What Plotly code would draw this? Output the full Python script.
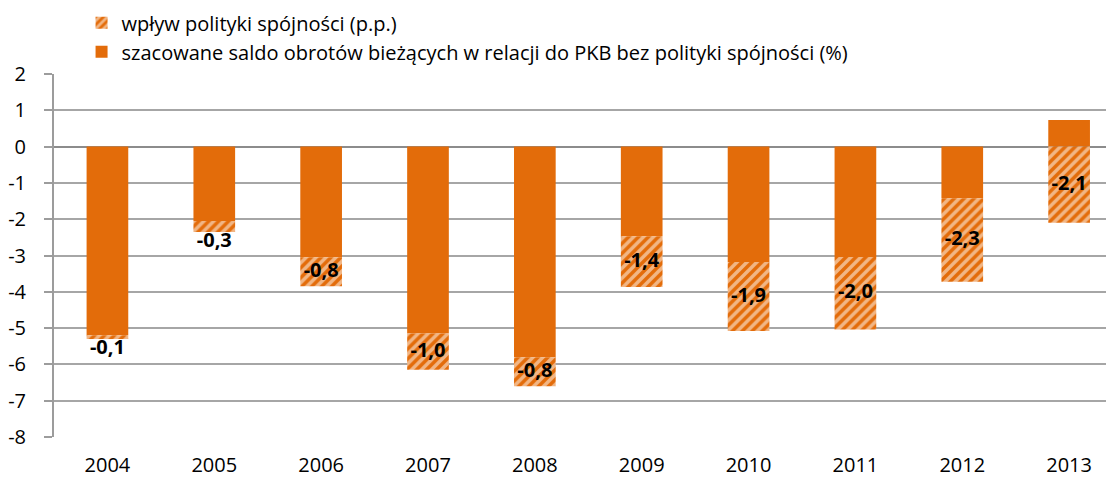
import plotly.graph_objects as go

years = ["2004", "2005", "2006", "2007", "2008", "2009", "2010", "2011", "2012", "2013"]
saldo_bez = [-5.2, -2.05, -3.05, -5.15, -5.8, -2.47, -3.18, -3.04, -1.42, 0.73]
wplyw = [-0.1, -0.3, -0.8, -1.0, -0.8, -1.4, -1.9, -2.0, -2.3, -2.1]
y_ticks = [2, 1, 0, -1, -2, -3, -4, -5, -6, -7, -8]

ORANGE = "#E36C0A"
FONT = "Open Sans"

fig = go.Figure()
fig.add_trace(go.Bar(
    x=years, y=saldo_bez, name="szacowane saldo obrotów bieżących w relacji do PKB bez polityki spójności (%)",
    marker=dict(color=ORANGE, line=dict(width=0)), width=0.39, hoverinfo="skip",
))
fig.add_trace(go.Bar(
    x=years, y=wplyw, name="wpływ polityki spójności (p.p.)",
    marker=dict(color=ORANGE, line=dict(width=0),
                pattern=dict(shape="/", fgcolor="white", bgcolor=ORANGE, size=7, solidity=0.5)),
    width=0.39, hoverinfo="skip",
))

# label positions: centre of hatched segment (stacked from the negative base)
label_y = []
pos = []
for s, w in zip(saldo_bez, wplyw):
    base = s if s < 0 else 0
    if abs(w) < 0.35:
        label_y.append(base + w)
        pos.append("bottom center")
    else:
        label_y.append(base + w / 2)
        pos.append("middle center")
labels = [f"{v:.1f}".replace(".", ",") for v in wplyw]
fig.add_trace(go.Scatter(
    x=years, y=label_y, mode="text", text=labels, textposition=pos,
    textfont=dict(family=FONT, size=20, color="black", weight="bold"),
    showlegend=False, hoverinfo="skip",
))

fig.update_layout(
    width=1106, height=474,
    margin=dict(l=46, r=0, t=66, b=45, autoexpand=False),
    paper_bgcolor="white", plot_bgcolor="white",
    barmode="relative",
    font=dict(family=FONT, size=20, color="black"),
    showlegend=True,
    legend=dict(x=0.026, y=1.195, xanchor="left", yanchor="top",
                traceorder="reversed", font=dict(family=FONT, size=20, color="black"),
                itemwidth=30, bgcolor="rgba(0,0,0,0)"),
    xaxis=dict(type="category", range=[-0.5, 9.42], showline=False, showgrid=False, ticks="",
               zeroline=False, ticklabelstandoff=14, tickfont=dict(family=FONT, size=20)),
    xaxis2=dict(overlaying="x", anchor="free", position=0.8, range=[-0.5, 9.42],
                tickvals=[0.5, 1.5, 2.5, 3.5, 4.5, 5.5, 6.5, 7.5, 8.5],
                ticks="outside", ticklen=7, tickwidth=2, tickcolor="#8c8c8c",
                showticklabels=False, showgrid=False, showline=False, zeroline=False),
    yaxis=dict(range=[-8, 2], tickvals=y_ticks, ticktext=[str(v) for v in y_ticks],
               ticks="outside", ticklen=8, tickwidth=2,
               tickcolor="#9c9c9c", showline=True, linecolor="#9c9c9c", linewidth=2,
               showgrid=True, gridcolor="#a6a6a6", gridwidth=2,
               zeroline=True, zerolinecolor="#8c8c8c", zerolinewidth=2,
               ticklabelstandoff=14, tickfont=dict(family=FONT, size=20)),
)

fig.write_html("out.html")
